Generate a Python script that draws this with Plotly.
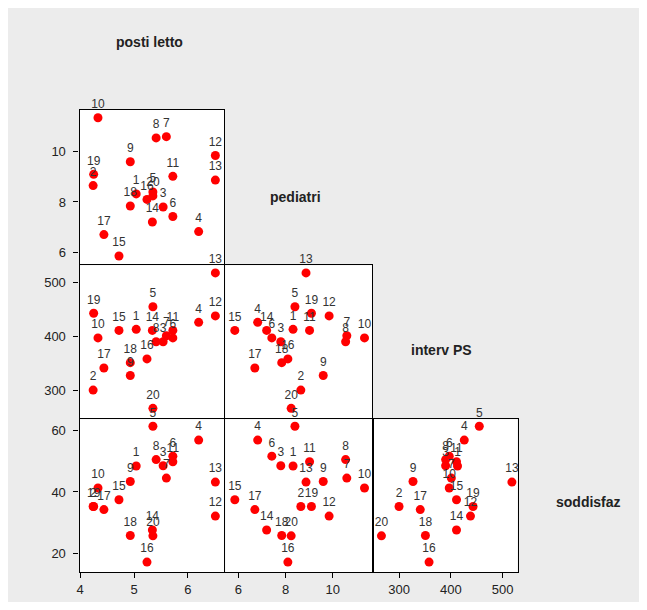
import plotly.graph_objects as go

# ---- data (20 observations) ----
obs_labels = [str(i) for i in range(1, 21)]
posti_letto = [5.04, 4.24, 5.54, 6.20, 5.35, 5.72, 5.60, 5.41, 4.93, 4.33,
               5.72, 6.51, 6.51, 5.34, 4.72, 5.24, 4.44, 4.93, 4.25, 5.35]
pediatri = [8.32, 8.65, 7.80, 6.82, 8.40, 7.42, 10.60, 10.55, 9.60, 11.35,
            9.02, 9.85, 8.87, 7.20, 5.85, 8.10, 6.70, 7.84, 9.10, 8.24]
interv_ps = [413, 300, 390, 426, 455, 397, 401, 390, 327, 397,
             411, 438, 518, 411, 411, 358, 341, 351, 443, 266]
soddisfaz = [48.4, 35.3, 48.5, 56.8, 61.3, 51.6, 44.5, 50.5, 43.4, 41.3,
             49.8, 32.2, 43.2, 27.7, 37.5, 17.3, 34.3, 25.9, 35.3, 25.8]

var_names = ["posti letto", "pediatri", "interv PS", "soddisfaz"]
ticks_posti = [4, 5, 6]
ticks_ped = [6, 8, 10]
ticks_int = [300, 400, 500]
ticks_sod = [20, 40, 60]

# page body has an 8px margin, so figure coords = screen coords - 8
OFF = 8
W, H = 632, 594
LW = 1.4
col_px = [(77, 222), (222 + LW, 371), (371 + LW, 517)]
row_px = [(110, 264), (264 + LW, 418), (418 + LW, 572)]

def xdom(c):
    a, b = col_px[c]
    return [(a - OFF) / W, (b - OFF) / W]

def ydom(r):
    a, b = row_px[r]
    return [1 - (b - OFF) / H, 1 - (a - OFF) / H]

series = [posti_letto, pediatri, interv_ps, soddisfaz]
ranges = [[3.99, 6.67], [5.45, 11.68], [251, 529], [14.1, 63.9]]
yranges = [None, [5.53, 11.66], [248, 532], [14.1, 63.5]]
tickv = [ticks_posti, ticks_ped, ticks_int, ticks_sod]

fig = go.Figure()
layout = {}
tickfont = dict(family="Liberation Sans, Arial, sans-serif", size=13, color="#222")
idx = 0
for r in range(3):          # row r -> y variable r+1
    for c in range(r + 1):  # col c -> x variable c
        idx += 1
        xs = "x" if idx == 1 else f"x{idx}"
        ys = "y" if idx == 1 else f"y{idx}"
        fig.add_trace(go.Scatter(
            x=series[c], y=series[r + 1], text=obs_labels,
            mode="markers+text", textposition="top center",
            textfont=dict(family="Liberation Sans, Arial, sans-serif", size=12, color="#333"),
            marker=dict(color="#ff0000", size=9),
            cliponaxis=False, showlegend=False, xaxis=xs, yaxis=ys))
        xa = dict(domain=xdom(c), range=ranges[c], anchor=ys,
                  showgrid=False, zeroline=False, showline=True, mirror=True,
                  linecolor="black", linewidth=LW,
                  tickvals=tickv[c], tickfont=tickfont,
                  showticklabels=(r == 2), ticks="outside" if r == 2 else "",
                  ticklen=5, tickcolor="black", fixedrange=True)
        ya = dict(domain=ydom(r), range=yranges[r + 1], anchor=xs,
                  showgrid=False, zeroline=False, showline=True, mirror=True,
                  linecolor="black", linewidth=LW,
                  tickvals=tickv[r + 1], tickfont=tickfont,
                  showticklabels=(c == 0), ticks="outside" if c == 0 else "",
                  ticklen=5, tickcolor="black", ticklabelstandoff=5,
                  fixedrange=True)
        layout["xaxis" if idx == 1 else f"xaxis{idx}"] = xa
        layout["yaxis" if idx == 1 else f"yaxis{idx}"] = ya

label_pos = [(147, 42), (294, 197), (441, 350), (588, 502)]
annotations = []
for name, (px, py) in zip(var_names, label_pos):
    annotations.append(dict(text=name, x=(px - OFF) / W, y=1 - (py - OFF) / H,
                            xref="paper", yref="paper",
                            showarrow=False, xanchor="center", yanchor="middle",
                            font=dict(family="Liberation Sans, Arial, sans-serif",
                                      size=14, color="#222", weight="bold")))

fig.update_layout(width=W, height=H, autosize=False,
                  margin=dict(l=0, r=0, t=0, b=0),
                  paper_bgcolor="#ececec", plot_bgcolor="white",
                  annotations=annotations, **layout)
fig.write_html("out.html")
